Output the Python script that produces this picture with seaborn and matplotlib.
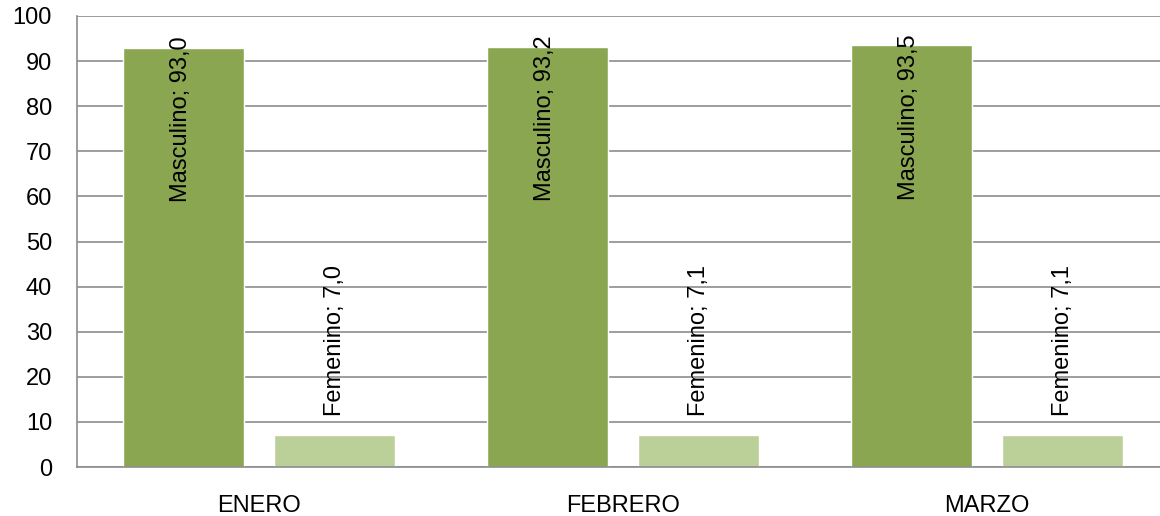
import pandas as pd
import seaborn as sns
import matplotlib.pyplot as plt

# data
months = ['ENERO', 'FEBRERO', 'MARZO']
masculino = [93.0, 93.2, 93.5]
femenino = [7.0, 7.1, 7.1]
series_names = ['Masculino', 'Femenino']
colors = ['#8BA650', '#BBCF98']
y_ticks = [0, 10, 20, 30, 40, 50, 60, 70, 80, 90, 100]

df = pd.DataFrame({
    'Mes': months * 2,
    'Serie': [series_names[0]] * 3 + [series_names[1]] * 3,
    'Valor': masculino + femenino,
})

sns.set_style('white')
plt.rcParams['font.family'] = ['Liberation Sans', 'DejaVu Sans']
plt.rcParams['text.color'] = 'black'
plt.rcParams['xtick.color'] = 'black'
plt.rcParams['ytick.color'] = 'black'
grid_color = '#8C8C8C'

fig = plt.figure(figsize=(11.6, 5.16), dpi=100)
# axes runs past the right edge, like the cropped original
ax = fig.add_axes([77 / 1160, 49 / 516, 1092 / 1160, 451 / 516])

sns.barplot(data=df, x='Mes', y='Valor', hue='Serie', palette=colors,
            width=0.83, gap=0.2, legend=False, ax=ax, saturation=1)

ax.set_xlim(-0.5, 2.5)
ax.set_ylim(0, 100)
ax.set_yticks(y_ticks)
ax.set_xlabel('')
ax.set_ylabel('')
ax.yaxis.grid(True, color=grid_color, linewidth=1.2)
ax.set_axisbelow(True)
for side in ['top', 'right']:
    ax.spines[side].set_visible(False)
for side in ['left', 'bottom']:
    ax.spines[side].set_color(grid_color)
    ax.spines[side].set_linewidth(1.2)
ax.tick_params(axis='y', length=0, pad=18, labelsize=17, labelcolor='black')
ax.tick_params(axis='x', length=0, pad=20, labelsize=17, labelcolor='black')

# data labels: rotated, "Serie; valor" with decimal comma
for container, name, vals in zip(ax.containers, series_names, [masculino, femenino]):
    for patch, v in zip(container.patches, vals):
        txt = f'{name}; {v:.1f}'.replace('.', ',')
        x = patch.get_x() + patch.get_width() / 2
        if name == 'Masculino':
            ax.annotate(txt, (x, patch.get_height()), xytext=(-2, 8),
                        textcoords='offset points', rotation=90,
                        ha='center', va='top', fontsize=17, color='black')
        else:
            ax.annotate(txt, (x, patch.get_height()), xytext=(0, 14),
                        textcoords='offset points', rotation=90,
                        ha='center', va='bottom', fontsize=17, color='black')

fig.savefig('out.png', dpi=100)
